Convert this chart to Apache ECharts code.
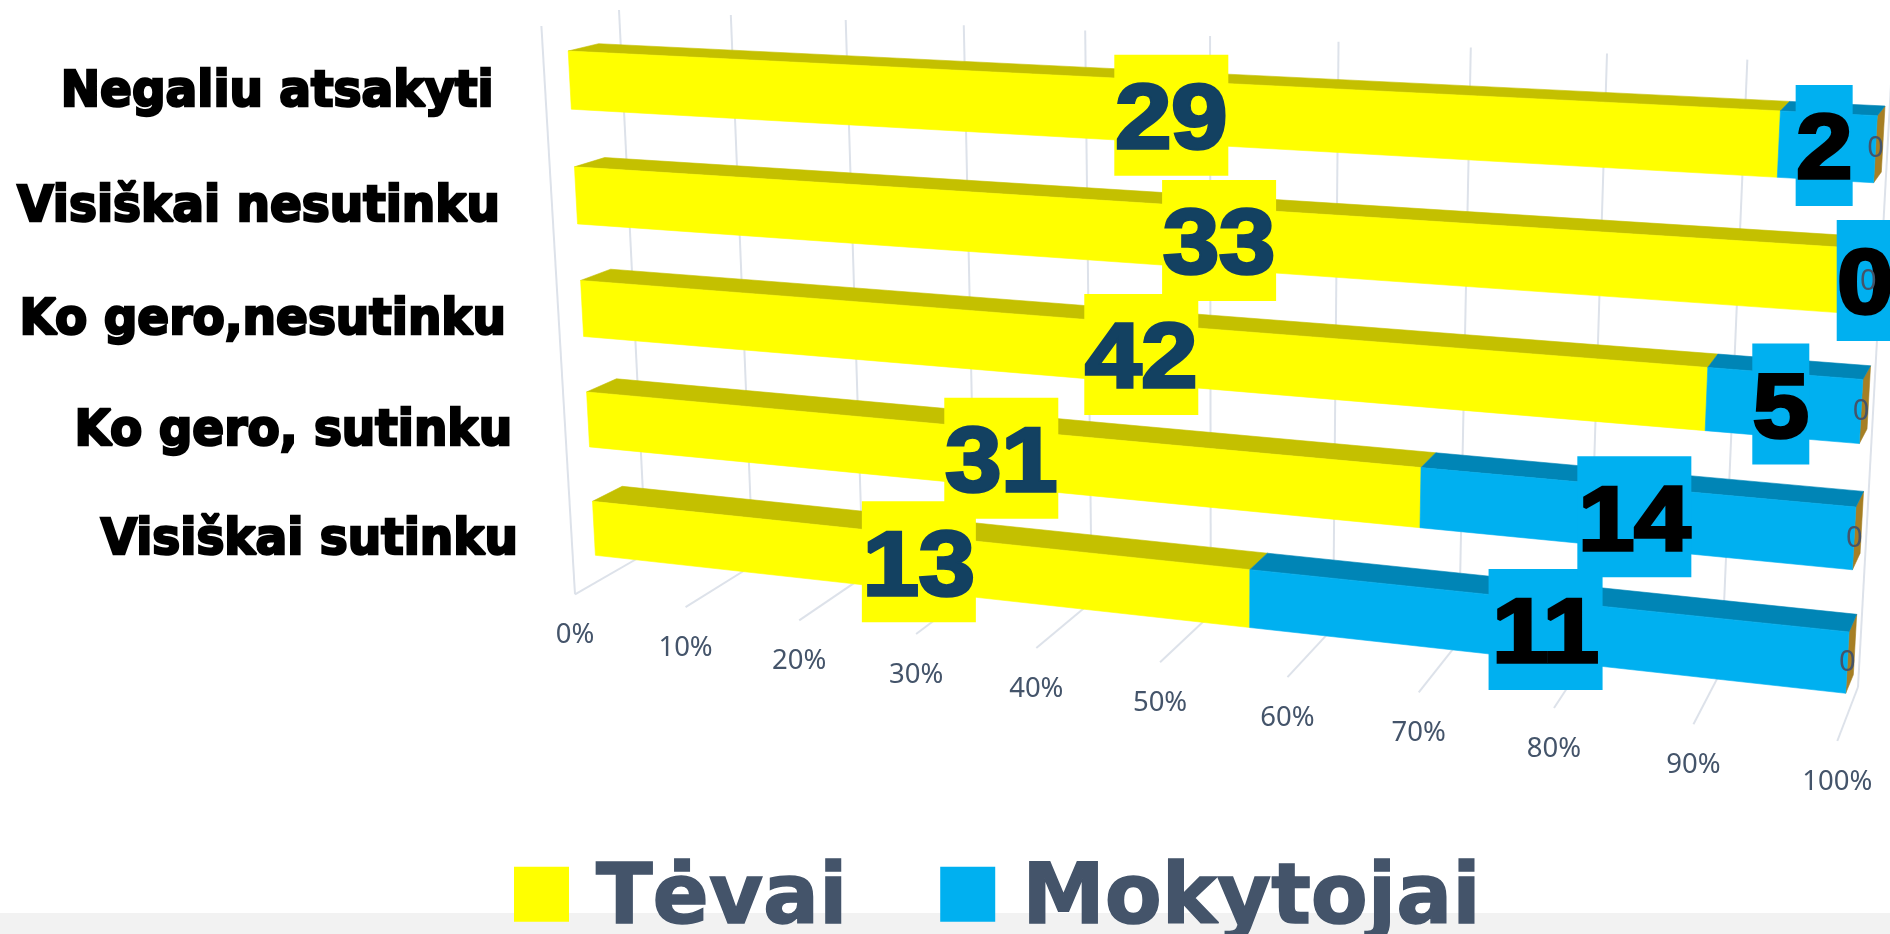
<!DOCTYPE html>
<html>
<head>
<meta charset="utf-8">
<style>html,body{margin:0;padding:0;background:#fff;overflow:hidden}#c{width:1890px;height:934px}</style>
<script src="https://cdn.jsdelivr.net/npm/echarts@6/dist/echarts.min.js"></script>
</head>
<body>
<div id="c"></div>
<script>
// ---- chart data (bottom row first); labels show the rounded value ----
const categories = ['Visiškai sutinku', 'Ko gero, sutinku', 'Ko gero,nesutinku', 'Visiškai nesutinku', 'Negaliu atsakyti'];
const tevai = [13.4, 31, 42, 33, 29];
const mokytojai = [10.6, 14, 5, 0, 2];
const trecia = [0, 0, 0, 0, 0];
const percentTicks = [0, 10, 20, 30, 40, 50, 60, 70, 80, 90, 100];

// ---- look ----
const YELLOW = '#FFFF00', YELLOW_TOP = '#C4C000';
const BLUE = '#00B0F0', BLUE_TOP = '#0085B6';
const SIDE = '#A67F24', GRID_LINE = '#DDE2EA', AXIS_TEXT = '#44546A';

// ---- projection of the 3D scene: planes given by four screen corners ----
function plane(p, vMin, vMax) {
  const [x0, y0] = p[0], [x1, y1] = p[1], [x2, y2] = p[2], [x3, y3] = p[3];
  const dx1 = x1 - x2, dx2 = x3 - x2, sx = x0 - x1 + x2 - x3;
  const dy1 = y1 - y2, dy2 = y3 - y2, sy = y0 - y1 + y2 - y3;
  const den = dx1 * dy2 - dx2 * dy1;
  const g = (sx * dy2 - dx2 * sy) / den, h = (dx1 * sy - sx * dy1) / den;
  const a = x1 - x0 + g * x1, b = x3 - x0 + h * x3;
  const d = y1 - y0 + g * y1, e = y3 - y0 + h * y3;
  return function (u, vRaw) {
    const v = (vRaw - vMin) / (vMax - vMin), w = g * u + h * v + 1;
    return [(a * u + b * v + x0) / w, (d * u + e * v + y0) / w];
  };
}
const frontFace = plane([[595.4, 555.3], [1845.7, 693.3], [1877.3, 115.7], [568.2, 51]], 0.05, 0.95);
const backFace = plane([[622.2, 486.3], [1856.7, 614.3], [1885, 106], [598.6, 43.7]], 0.15, 0.95);
const wall = plane([[646, 554.4], [1858, 687], [1892, 66], [619, 10]], 0, 1);
const floorPlane = plane([[575, 594.3], [1837.3, 741], [1858, 687], [646, 553.5]], 0, 1);
const sideTop = [541.4, 26];

// ---- stacked percentages ----
function stackRows(own, below) {
  return own.map((val, i) => {
    const total = tevai[i] + mokytojai[i] + trecia[i];
    const start = below.reduce((s, arr) => s + arr[i], 0) / total * 100;
    return [start, start + val / total * 100, i, val];
  });
}
const rowsT = stackRows(tevai, []);
const rowsM = stackRows(mokytojai, [tevai]);
const rowsZ = stackRows(trecia, [tevai, mokytojai]);

function toUV(params, api, pct, cat, bandShift) {
  const r = params.coordSys;
  const c = api.coord([pct, cat]);
  const band = api.size([0, 1])[1];
  return [(c[0] - r.x) / r.width, 1 - (c[1] + bandShift * band - r.y) / r.height];
}
function poly(points, fill) {
  return { type: 'polygon', shape: { points }, style: { fill, stroke: fill, lineWidth: 0.6 } };
}

function barRenderer(frontCol, topCol, withSide) {
  return function (params, api) {
    const s = api.value(0), t = api.value(1), cat = api.value(2);
    const [u0, vB] = toUV(params, api, s, cat, 0.25);
    const [u1, vT] = toUV(params, api, t, cat, -0.25);
    const fBL = frontFace(u0, vB), fBR = frontFace(u1, vB), fTL = frontFace(u0, vT), fTR = frontFace(u1, vT);
    const bTL = backFace(u0, vT), bTR = backFace(u1, vT), bBR = backFace(u1, vB);
    const kids = [];
    if (withSide) kids.push(poly([fTR, bTR, bBR, fBR], SIDE));
    if (t > s) {
      kids.push(poly([fTL, fTR, bTR, bTL], topCol));
      kids.push(poly([fBL, fBR, fTR, fTL], frontCol));
    }
    return { type: 'group', children: kids };
  };
}

function labelRenderer(textCol, boxCol, small, dyBase, dyRow) {
  return function (params, api) {
    const s = api.value(0), t = api.value(1), cat = api.value(2), val = Math.round(api.value(3));
    const [u0, vB] = toUV(params, api, s, cat, 0.25);
    const [u1, vT] = toUV(params, api, t, cat, -0.25);
    const a = frontFace(u0, vB), b = frontFace(u1, vB), c = frontFace(u0, vT), d = frontFace(u1, vT);
    const cx = (a[0] + b[0] + c[0] + d[0]) / 4, cy = (a[1] + b[1] + c[1] + d[1]) / 4;
    if (small) {
      return { type: 'text', style: { x: cx, y: cy, text: String(val), fill: AXIS_TEXT, align: 'center', verticalAlign: 'middle', fontFamily: 'Noto Sans', fontSize: 29 } };
    }
    const label = String(val), w = label.length * 57;
    const by = cy + dyBase + dyRow * cat;
    return { type: 'group', children: [
      { type: 'rect', shape: { x: cx - 3 - w / 2, y: by - 60.5, width: w, height: 121 }, style: { fill: boxCol } },
      { type: 'text', x: cx - 3, y: by + 8, scaleX: 1.12, style: { x: 0, y: 0, text: label, fill: textCol, stroke: textCol, lineWidth: 3.5, align: 'center', verticalAlign: 'middle', fontFamily: 'Liberation Sans', fontWeight: 'bold', fontSize: 90 } }
    ] };
  };
}

function categoryRenderer(params, api) {
  const cat = api.value(0);
  const [u, vB] = toUV(params, api, 0, cat, 0.25);
  const [, vT] = toUV(params, api, 0, cat, -0.25);
  const tl = frontFace(u, vT), bl = frontFace(u, vB);
  return { type: 'text', x: tl[0] - 74.5, y: (tl[1] + bl[1]) / 2 + 13, scaleY: 1.04, style: {
    x: 0, y: 0, text: categories[cat], fill: '#000', stroke: '#000', lineWidth: 2.4,
    align: 'right', verticalAlign: 'middle', fontFamily: 'DejaVu Sans', fontWeight: 'bold', fontSize: 47 } };
}

function gridRenderer(params, api) {
  const pct = api.value(0);
  const u = (api.coord([pct, 0])[0] - params.coordSys.x) / params.coordSys.width;
  const line = (p, q) => ({ type: 'line', shape: { x1: p[0], y1: p[1], x2: q[0], y2: q[1] }, style: { stroke: GRID_LINE, lineWidth: 2 } });
  const front = floorPlane(u, 0);
  const kids = [
    line(wall(u, 0), wall(u, 1)),
    line(front, floorPlane(u, 1)),
    { type: 'text', style: { x: front[0], y: front[1] + 41, text: pct + '%', fill: AXIS_TEXT, align: 'center', verticalAlign: 'middle', fontFamily: 'Noto Sans', fontSize: 27.5 } }
  ];
  if (pct === 0) kids.push(line(front, sideTop));
  return { type: 'group', children: kids };
}

const barEncode = { x: [0, 1], y: 2 };
const chart = echarts.init(document.getElementById('c'), null, { renderer: 'canvas' });
chart.setOption({
  animation: false,
  backgroundColor: '#fff',
  grid: { left: 0, top: 0, width: 1000, height: 800 },
  xAxis: { type: 'value', min: 0, max: 100, show: false },
  yAxis: { type: 'category', data: categories, show: false },
  legend: {
    data: ['Tėvai', 'Mokytojai'], left: 509, top: 854, orient: 'horizontal',
    icon: 'rect', itemWidth: 55, itemHeight: 55, itemGap: 92,
    selectedMode: false,
    formatter: '{t|{name}}',
    textStyle: { rich: { t: { color: '#44546A', textBorderColor: '#44546A', textBorderWidth: 1.5, fontFamily: 'DejaVu Sans', fontWeight: 'bold', fontSize: 83, padding: [14, 0, 0, 22] } } }
  },
  graphic: [{ type: 'rect', z: -10, left: 0, top: 913, shape: { width: 1890, height: 21 }, style: { fill: '#F2F2F2' } }],
  series: [
    { type: 'custom', name: 'Ašis', z: 1, data: percentTicks.map(v => [v]), encode: { x: 0 }, renderItem: gridRenderer, silent: true },
    { type: 'custom', name: 'Kategorijos', z: 1, data: categories.map((c, i) => [i]), encode: { y: 0 }, renderItem: categoryRenderer, silent: true },
    { type: 'custom', name: 'Tėvai', z: 2, itemStyle: { color: YELLOW }, data: rowsT, encode: barEncode, renderItem: barRenderer(YELLOW, YELLOW_TOP, false) },
    { type: 'custom', name: 'Mokytojai', z: 3, itemStyle: { color: BLUE }, data: rowsM, encode: barEncode, renderItem: barRenderer(BLUE, BLUE_TOP, false) },
    { type: 'custom', name: 'Pabaiga', z: 2, data: rowsZ, encode: barEncode, renderItem: barRenderer(BLUE, BLUE_TOP, true) },
    { type: 'custom', name: 'Tėvai', z: 5, itemStyle: { color: YELLOW }, data: rowsT, encode: barEncode, renderItem: labelRenderer('#134161', YELLOW, false, -1.6, 1.2), silent: true },
    { type: 'custom', name: 'Mokytojai', z: 6, itemStyle: { color: BLUE }, data: rowsM, encode: barEncode, renderItem: labelRenderer('#000000', BLUE, false, -1.2, 0), silent: true },
    { type: 'custom', name: 'Pabaiga', z: 7, data: rowsZ, encode: barEncode, renderItem: labelRenderer(AXIS_TEXT, null, true, 0, 0), silent: true }
  ]
});
</script>
</body>
</html>
